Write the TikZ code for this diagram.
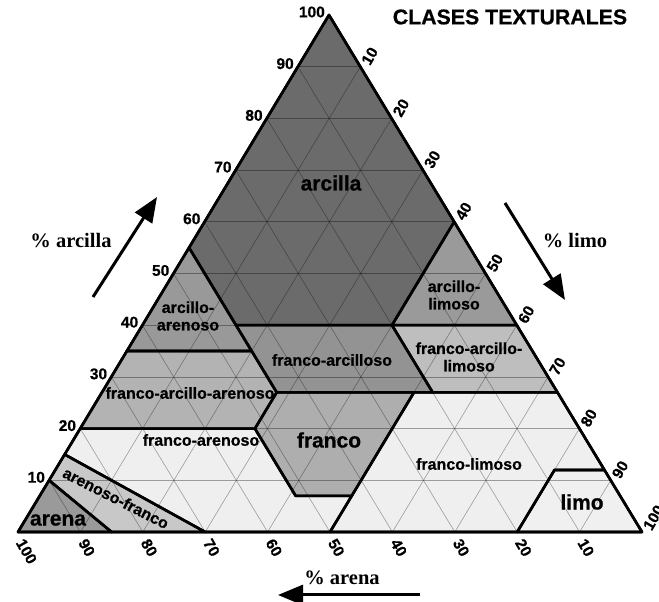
\documentclass[tikz,border=0pt]{standalone}
\usepackage{fontspec}
\setmainfont{Liberation Serif}
\newfontfamily\arialf{Liberation Sans}[BoldFeatures={FakeBold=0.6}]
\usetikzlibrary{arrows.meta}
\newcommand\defpt[3]{\coordinate (#1) at (#2,#3);}
\definecolor{cArcilla}{HTML}{6B6B6B}
\definecolor{cArcAre}{HTML}{999999}
\definecolor{cArcLim}{HTML}{9A9A9A}
\definecolor{cFArc}{HTML}{939393}
\definecolor{cFArcLim}{HTML}{BEBEBE}
\definecolor{cFArcAre}{HTML}{B3B3B3}
\definecolor{cFranco}{HTML}{AEAEAE}
\definecolor{cFAre}{HTML}{EFEFEF}
\definecolor{cFLim}{HTML}{EFEFEF}
\definecolor{cLimo}{HTML}{F0F0F0}
\definecolor{cAreF}{HTML}{C8C8C8}
\definecolor{cArena}{HTML}{9A9A9A}
\begin{document}
\begin{tikzpicture}[x=1pt,y=1pt,
  region/.style={draw=black, line width=2.6pt, line join=round},
  gridline/.style={draw=black, draw opacity=0.35, line width=0.6pt},
  cls/.style={font=\arialf\bfseries\fontsize{16}{17.5}\selectfont, align=center, inner sep=0pt},
  big/.style={font=\arialf\bfseries\fontsize{21}{24}\selectfont, inner sep=0pt},
  tick/.style={font=\arialf\bfseries\fontsize{15.5}{17}\selectfont, inner sep=0pt},
  axis/.style={font=\bfseries\fontsize{20.5}{24}\selectfont, inner sep=0pt},
  bigarrow/.style={line width=3pt, -{Triangle[length=25pt,width=20pt]}}
]
\useasboundingbox (0,0) rectangle (659,602);
\fill[white] (0,0) rectangle (659,602);
\begin{scope}[shift={(18pt,70pt)}, x={(6.24pt,0pt)}, y={(3.11pt,5.17pt)}]
% coordinates are (silt, clay)
\defpt{A}{0}{0}
\defpt{B}{100}{0}
\defpt{C}{0}{100}
\defpt{L10}{0}{10}
\defpt{L15}{0}{15}
\defpt{L20}{0}{20}
\defpt{L35}{0}{35}
\defpt{L55}{0}{55}
\defpt{b15}{15}{0}
\defpt{b30}{30}{0}
\defpt{b50}{50}{0}
\defpt{b80}{80}{0}
\defpt{R60}{40}{60}
\defpt{R40}{60}{40}
\defpt{R27}{73}{27}
\defpt{R12}{88}{12}
\defpt{p1}{28}{20}
\defpt{p2}{28}{27}
\defpt{p3}{20}{35}
\defpt{p4}{15}{40}
\defpt{p5}{40}{40}
\defpt{p6}{53}{27}
\defpt{p7}{50}{27}
\defpt{p8}{50}{7}
\defpt{p9}{41}{7}
\defpt{p11}{80}{12}
\def\Rarena{(A) -- (b15) -- (L10) -- cycle}
\def\RareF{(L10) -- (b15) -- (b30) -- (L15) -- cycle}
\def\RFare{(L15) -- (b30) -- (b50) -- (p8) -- (p9) -- (p1) -- (L20) -- cycle}
\def\RFarcAre{(L20) -- (p1) -- (p2) -- (p3) -- (L35) -- cycle}
\def\RarcAre{(L35) -- (p3) -- (L55) -- cycle}
\def\Rarcilla{(L55) -- (C) -- (R60) -- (p5) -- (p4) -- cycle}
\def\RFarc{(p2) -- (p4) -- (p5) -- (p6) -- cycle}
\def\RFarcLim{(p6) -- (p5) -- (R40) -- (R27) -- cycle}
\def\RarcLim{(p5) -- (R60) -- (R40) -- cycle}
\def\Rfranco{(p1) -- (p2) -- (p7) -- (p8) -- (p9) -- cycle}
\def\RFlim{(p7) -- (R27) -- (R12) -- (p11) -- (b80) -- (b50) -- (p8) -- cycle}
\def\Rlimo{(b80) -- (B) -- (R12) -- (p11) -- cycle}
% fills
\fill[cArena] \Rarena;
\fill[cAreF] \RareF;
\fill[cFAre] \RFare;
\fill[cFArcAre] \RFarcAre;
\fill[cArcAre] \RarcAre;
\fill[cArcilla] \Rarcilla;
\fill[cFArc] \RFarc;
\fill[cFArcLim] \RFarcLim;
\fill[cArcLim] \RarcLim;
\fill[cFranco] \Rfranco;
\fill[cFLim] \RFlim;
\fill[cLimo] \Rlimo;
% grid
\foreach \k in {10,20,...,90} {
  \pgfmathsetmacro\m{100-\k}
  \draw[gridline] (0,\k) -- (\m,\k);
  \draw[gridline] (\k,0) -- (\k,\m);
  \draw[gridline] (\m,0) -- (0,\m);
}
% borders
\path[region] \Rarena;
\path[region] \RareF;
\path[region] \RFare;
\path[region] \RFarcAre;
\path[region] \RarcAre;
\path[region] \Rarcilla;
\path[region] \RFarc;
\path[region] \RFarcLim;
\path[region] \RarcLim;
\path[region] \Rfranco;
\path[region] \RFlim;
\path[region] \Rlimo;
\path[region] (A) -- (B) -- (C) -- cycle;
% tick labels
\foreach \k in {10,20,...,100} {
  \pgfmathsetmacro\m{100-\k}
  \node[tick, anchor=east] at ([shift={(-4pt,3pt)}]0,\k) {\k};
  \node[tick, rotate=60, anchor=west] at ([shift={(5pt,3pt)}]\k,\m) {\k};
  \node[tick, rotate=-60, anchor=west] at ([shift={(2pt,-8pt)}]\m,0) {\k};
}
\end{scope}
% class labels
\node[big] (tArcilla) at (331,419) {arcilla};
\node[cls] (tArcAre) at (188,286) {arcillo-\\arenoso};
\node[cls] (tArcLim) at (454,307) {arcillo-\\limoso};
\node[cls] (tFArc) at (332,242) {franco-arcilloso};
\node[cls] (tFArcLim) at (469,245) {franco-arcillo-\\limoso};
\node[cls] (tFArcAre) at (190,209) {franco-arcillo-arenoso};
\node[big] (tFranco) at (329,162) {franco};
\node[cls] (tFAre) at (201,162) {franco-arenoso};
\node[cls] (tFLim) at (469,138) {franco-limoso};
\node[big] (tLimo) at (582,100) {limo};
\node[big] (tArena) at (58,82) {arena};
\node[cls, rotate=-27] (tAreF) at (116,104) {arenoso-franco};
% title
\node[font=\arialf\bfseries\fontsize{21.3}{24}\selectfont, inner sep=0pt] (title) at (510,585) {CLASES TEXTURALES};
% axis labels and arrows
\node[axis] (xArc) at (71,361) {\% arcilla};
\node[axis] (xLim) at (575,361) {\% limo};
\node[axis] (xAre) at (342,24) {\% arena};
\coordinate (aArc1) at (93,305);
\coordinate (aArc2) at (157,405);
\coordinate (aLim1) at (505,399);
\coordinate (aLim2) at (565,302);
\coordinate (aAre1) at (420,7);
\coordinate (aAre2) at (278,7);
\draw[bigarrow] (aArc1) -- (aArc2);
\draw[bigarrow] (aLim1) -- (aLim2);
\draw[bigarrow] (aAre1) -- (aAre2);
\end{tikzpicture}
\end{document}
